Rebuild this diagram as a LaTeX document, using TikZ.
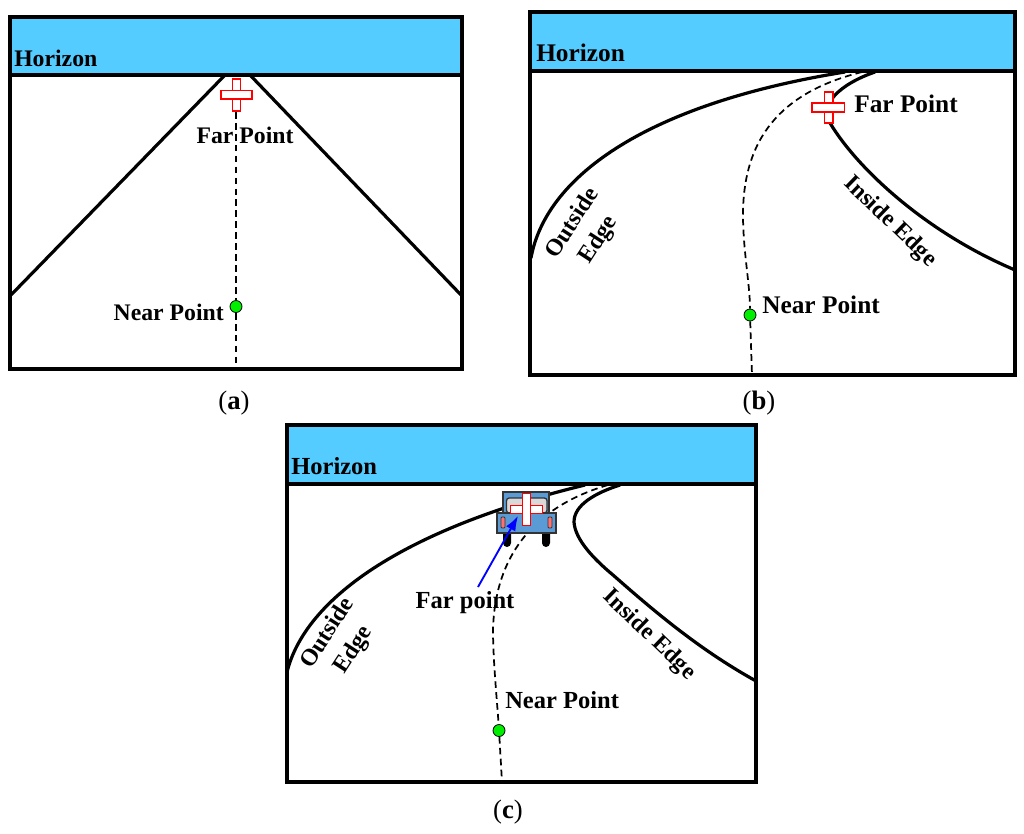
\documentclass[tikz,border=0pt]{standalone}
\usepackage{fontspec}
\setmainfont{Liberation Serif}
\usepackage{xcolor}
\usetikzlibrary{arrows.meta}
\definecolor{SkyBand}{HTML}{55CCFF}
\definecolor{PointGreen}{HTML}{00EE00}
\definecolor{CarBlue}{HTML}{5B9BD5}
\definecolor{LampRed}{HTML}{FF7070}

\begin{document}
\begin{tikzpicture}[
  x=0.75pt, y=-0.75pt,
  frame/.style={draw=black, line width=2.8pt},
  band/.style={draw=black, line width=2.8pt, fill=SkyBand},
  edgeline/.style={draw=black, line width=2.4pt},
  midline/.style={draw=black, line width=1.3pt, dash pattern=on 5pt off 3.2pt},
  crossbar/.style={draw=red, line width=0.8pt, fill=white},
  point/.style={circle, draw=black, line width=0.6pt, fill=PointGreen, inner sep=0pt, minimum size=9pt},
  label/.style={font=\fontsize{#1}{23}\selectfont\bfseries, align=center, inner sep=0pt},
  caption/.style={font=\fontsize{20}{22}\selectfont, inner sep=0pt},
  carpart/.style={draw=black!80, line width=1pt, fill=CarBlue},
  lamp/.style={draw=black!80, line width=0.7pt, fill=LampRed, rounded corners=0.8pt},
  wheel/.style={fill=black, rounded corners=3pt}
]
\useasboundingbox (0,0) rectangle (1024,833);
\fill[white] (0,0) rectangle (1024,833);

% panel a
\draw[frame] (10,17) rectangle (462,369);
\draw[band] (10,17) rectangle (462,75);
\draw[edgeline] (10,296) -- (225,75);
\draw[edgeline] (250,75) -- (462,296);
\node[point] (nearA) at (236,306.5) {};
\draw[midline] (236,112) -- (nearA) -- (236,369);
\draw[crossbar] (232.5,79) rectangle (240.5,111);
\draw[crossbar] (221,90.5) rectangle (252,99);
\node[label=17.8, anchor=west] (horizonA) at (14,58) {Horizon};
\node[label=17.8] (farA) at (245,135) {Far Point};
\node[label=17.8, anchor=east] (nearlabelA) at (224,312) {Near Point};
\node[caption] (capA) at (234,403) {(\textbf{a})};

% panel b
\draw[frame] (530,12) rectangle (1015,375);
\draw[band] (530,12) rectangle (1015,71);
\draw[edgeline] (531,258) .. controls (545,180) and (640,105) .. (845,72);
\draw[edgeline] (875,72) .. controls (840,84) and (818,105) .. (830,123) .. controls (857,168) and (925,232) .. (1015,270);
\node[point] (nearB) at (750,315) {};
\draw[midline] (862,72) .. controls (790,90) and (743,130) .. (743,215) .. controls (743,250) and (750,285) .. (nearB);
\draw[midline] (nearB) -- (752,375);
\draw[crossbar] (824.5,92) rectangle (833,123);
\draw[crossbar] (812,103) rectangle (844.5,112);
\node[label=19, anchor=west] (horizonB) at (536,53) {Horizon};
\node[label=19, anchor=west] (farB) at (854,104) {Far Point};
\node[label=19, anchor=west] (nearlabelB) at (762,305) {Near Point};
\node[label=17.8, rotate=57] (outsideB) at (586,232) {Outside\\Edge};
\node[label=17.8, rotate=-44] (insideB) at (890,222) {Inside Edge};
\node[caption] (capB) at (759,403) {(\textbf{b})};

% panel c
\draw[frame] (287,425) rectangle (756,782);
\draw[band] (287,425) rectangle (756,484);
\draw[edgeline] (287,672) .. controls (305,600) and (400,530) .. (585,485);
\draw[edgeline] (620,485) .. controls (595,493) and (574,505) .. (574,522) .. controls (575,540) and (595,560) .. (613,575) .. controls (655,612) and (700,650) .. (756,681);
\node[point] (nearC) at (499,730.5) {};
\draw[midline] (608,485) .. controls (540,505) and (495,550) .. (493,630) .. controls (493,660) and (497,700) .. (nearC);
\draw[midline] (nearC) -- (502,782);
\node[label=18.4, anchor=west] (horizonC) at (291,466) {Horizon};
\node[label=18.4] (farC) at (465,603) {Far point};
\node[label=18.4, anchor=west] (nearlabelC) at (505,700) {Near Point};
\node[label=17.8, rotate=57] (outsideC) at (341,642) {Outside\\Edge};
\node[label=17.8, rotate=-44] (insideC) at (649,635) {Inside Edge};
\node[caption] (capC) at (508,812) {(\textbf{c})};
% car
\fill[wheel] (503,528) rectangle (511,547);
\fill[wheel] (542,528) rectangle (550,547);
\draw[carpart] (503,492) rectangle (549,513);
\draw[carpart, fill=black!15, rounded corners=2pt] (506.5,498) rectangle (547,513);
\draw[carpart] (497,513) rectangle (556,533);
\draw[lamp] (501,517) rectangle (505,528);
\draw[lamp] (548,517) rectangle (552,528);
\draw[crossbar, line width=1pt] (510.5,505.5) rectangle (542.5,513.5);
\draw[crossbar, line width=1.1pt] (522.5,493.5) rectangle (530.5,525.5);
\coordinate (arrowstart) at (478,587);
\coordinate (farmark) at (518,516);
\draw[-{Latex[length=11pt,width=8pt]}, blue, line width=1.4pt] (arrowstart) -- (farmark);
\end{tikzpicture}
\end{document}
